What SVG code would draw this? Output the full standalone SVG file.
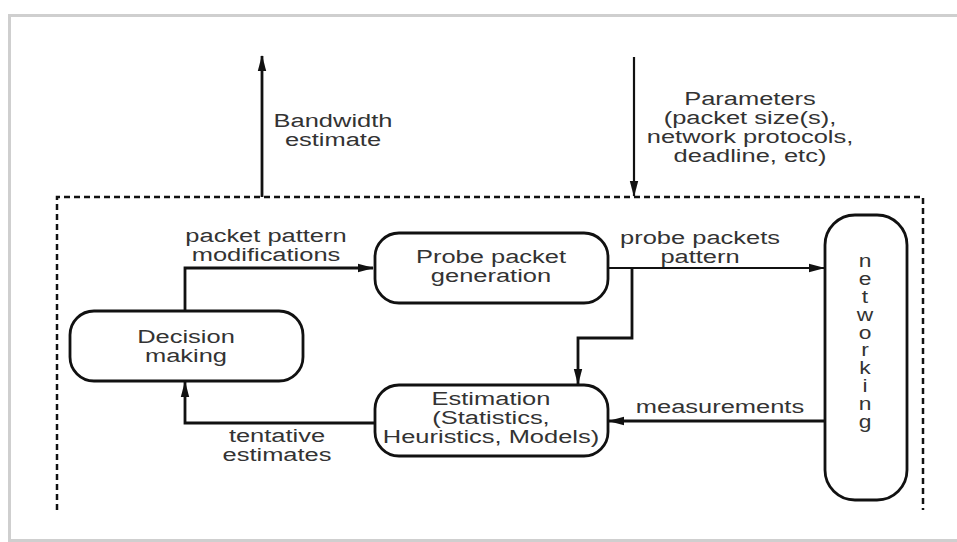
<svg xmlns="http://www.w3.org/2000/svg" width="957" height="542" viewBox="0 0 957 542">
<defs>
<style>
.t{font-family:"Liberation Sans",Arial,Helvetica,sans-serif;font-size:19px;fill:#333;text-anchor:middle}
.box{fill:#fff;stroke:#111;stroke-width:2.8}
.c{fill:none;stroke:#111;stroke-width:2.8}
.c2{fill:none;stroke:#111;stroke-width:2.2}
</style>
<marker id="ah" markerUnits="userSpaceOnUse" markerWidth="16" markerHeight="10" refX="15" refY="5" orient="auto">
<path d="M0,0.8 L16,5 L0,9.2 z" fill="#111"/>
</marker>
</defs>
<rect x="0" y="0" width="957" height="542" fill="#fff"/>
<rect x="9.5" y="15.5" width="960" height="525" fill="none" stroke="#cfcfcf" stroke-width="3"/>
<path d="M57,510 V197 H923 V510" fill="none" stroke="#111" stroke-width="2.5" stroke-dasharray="6 4"/>

<g id="connectors">
<path class="c" d="M262,197 V56" marker-end="url(#ah)"/>
<path class="c2" d="M634,57 V196" marker-end="url(#ah)"/>
<path class="c" d="M185,311 V268 H373" marker-end="url(#ah)"/>
<path class="c2" d="M608,268 H824" marker-end="url(#ah)"/>
<path class="c" d="M632,268 V338 H578 V384" marker-end="url(#ah)"/>
<path class="c" d="M825,421 H609" marker-end="url(#ah)"/>
<path class="c" d="M375,423 H185 V382" marker-end="url(#ah)"/>
</g>

<g id="label-bandwidth">
<text class="t" transform="translate(333 0) scale(1.34 1)"><tspan x="0" y="127">Bandwidth</tspan><tspan x="0" y="146">estimate</tspan></text>
</g>
<g id="label-parameters">
<text class="t" transform="translate(750 0) scale(1.34 1)"><tspan x="0" y="105">Parameters</tspan><tspan x="0" y="124">(packet size(s),</tspan><tspan x="0" y="143">network protocols,</tspan><tspan x="0" y="162">deadline, etc)</tspan></text>
</g>
<g id="label-modifications">
<text class="t" transform="translate(266 0) scale(1.34 1)"><tspan x="0" y="242">packet pattern</tspan><tspan x="0" y="261">modifications</tspan></text>
</g>
<g id="label-probe-pattern">
<text class="t" transform="translate(700 0) scale(1.34 1)"><tspan x="0" y="244">probe packets</tspan><tspan x="0" y="263">pattern</tspan></text>
</g>
<g id="label-measurements">
<text class="t" transform="translate(720 0) scale(1.34 1)"><tspan x="0" y="413">measurements</tspan></text>
</g>
<g id="label-tentative">
<text class="t" transform="translate(277 0) scale(1.34 1)"><tspan x="0" y="442">tentative</tspan><tspan x="0" y="461">estimates</tspan></text>
</g>

<g id="node-probe">
<rect class="box" x="375" y="233" width="233" height="70" rx="24"/>
<text class="t" transform="translate(491 0) scale(1.34 1)"><tspan x="0" y="263">Probe packet</tspan><tspan x="0" y="282">generation</tspan></text>
</g>
<g id="node-decision">
<rect class="box" x="70" y="311" width="233" height="70" rx="24"/>
<text class="t" transform="translate(186 0) scale(1.34 1)"><tspan x="0" y="343">Decision</tspan><tspan x="0" y="362">making</tspan></text>
</g>
<g id="node-estimation">
<rect class="box" x="375" y="385" width="233" height="71" rx="24"/>
<text class="t" transform="translate(491 0) scale(1.34 1)"><tspan x="0" y="405">Estimation</tspan><tspan x="0" y="424">(Statistics,</tspan><tspan x="0" y="443">Heuristics, Models)</tspan></text>
</g>
<g id="node-networking">
<rect class="box" x="825" y="215" width="82" height="285" rx="30"/>
<text class="t" transform="translate(865 0) scale(1.2 1)"><tspan x="0" y="267">n</tspan><tspan x="0" y="285">e</tspan><tspan x="0" y="303">t</tspan><tspan x="0" y="321">w</tspan><tspan x="0" y="339">o</tspan><tspan x="0" y="356">r</tspan><tspan x="0" y="374">k</tspan><tspan x="0" y="392">i</tspan><tspan x="0" y="410">n</tspan><tspan x="0" y="428">g</tspan></text>
</g>
</svg>
